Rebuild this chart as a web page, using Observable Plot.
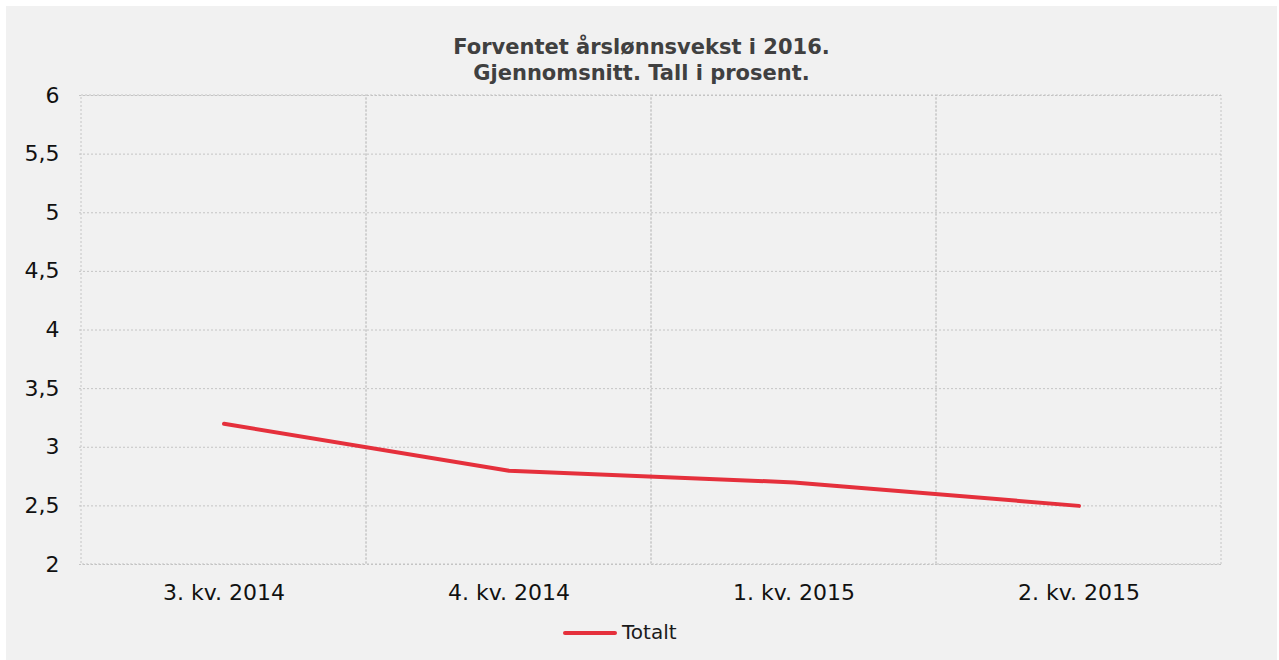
<!DOCTYPE html>
<html>
<head>
<meta charset="utf-8">
<script src="https://cdn.jsdelivr.net/npm/d3@7"></script>
<script src="https://cdn.jsdelivr.net/npm/@observablehq/plot@0.6"></script>
<style>
  html, body { margin: 0; padding: 0; background: #ffffff; }
  #frame { position: absolute; left: 6px; top: 6px; width: 1271px; height: 654px; background: #f1f1f1; font-family: "DejaVu Sans", Verdana, sans-serif; }
  #title { position: absolute; left: 0; top: 28px; width: 1271px; text-align: center; font-weight: bold; font-size: 21px; line-height: 26px; color: #404040; }
  #chart { position: absolute; left: 0; top: 69px; }
  #legend { position: absolute; left: 557px; top: 615px; display: flex; align-items: center; font-size: 20px; line-height: 23px; color: #1a1a1a; }
  #legend .sw { width: 54px; height: 4px; background: #e5303c; border-radius: 2px; margin-right: 5px; }
</style>
</head>
<body>
<div id="frame">
  <div id="title">Forventet årslønnsvekst i 2016.<br>Gjennomsnitt. Tall i prosent.</div>
  <div id="chart"></div>
  <div id="legend"><span class="sw"></span><span>Totalt</span></div>
</div>
<script>
const categories = ["3. kv. 2014", "4. kv. 2014", "1. kv. 2015", "2. kv. 2015"];
const totalt = [3.2, 2.8, 2.7, 2.5];
const yTicks = [2, 2.5, 3, 3.5, 4, 4.5, 5, 5.5, 6];

const data = categories.map((c, i) => ({kvartal: c, verdi: totalt[i]}));
const gridColor = "#c4c4c4";
const fmt = d => String(d).replace(".", ",");

const chart = Plot.plot({
  width: 1271,
  height: 540,
  marginTop: 20,
  marginLeft: 73,
  marginRight: 55,
  marginBottom: 51,
  style: { background: "transparent", fontFamily: "'DejaVu Sans', Verdana, sans-serif", fontSize: "22px", color: "#111", overflow: "visible" },
  x: { type: "band", domain: categories, padding: 0, label: null },
  y: { domain: [2, 6], label: null },
  marks: [
    Plot.ruleY(yTicks, { stroke: gridColor, strokeDasharray: "2,2", strokeWidth: 1 }),
    Plot.cell(categories, { x: d => d, fill: "none", stroke: gridColor, strokeDasharray: "2,2", strokeWidth: 1 }),
    Plot.axisX({ tickSize: 0, tickPadding: 20, fontSize: 22, fill: "#111", label: null }),
    Plot.axisY({ ticks: yTicks, tickSize: 0, tickPadding: 20, fontSize: 22, fill: "#111", tickFormat: fmt, label: null }),
    Plot.line(data, { x: "kvartal", y: "verdi", stroke: "#e5303c", strokeWidth: 4, strokeLinecap: "round", strokeLinejoin: "round" })
  ]
});
document.getElementById("chart").appendChild(chart);
</script>
</body>
</html>
